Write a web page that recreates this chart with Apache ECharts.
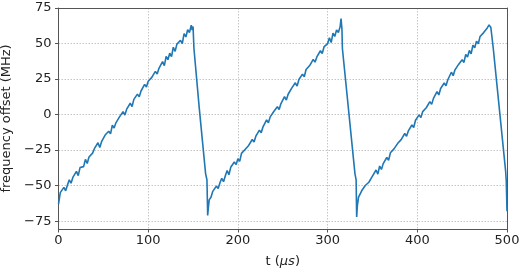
<!DOCTYPE html>
<html><head><meta charset="utf-8">
<script src="https://cdn.jsdelivr.net/npm/echarts@6/dist/echarts.min.js"></script>
<style>html,body{margin:0;padding:0;background:#fff}#c{width:520px;height:269px}</style>
</head><body><div id="c"></div>
<script>
// [t (µs), frequency offset (MHz)]
const rampA = [[0,-63],[2,-54.9],[4,-55.8],[6,-51.2],[8,-53.6],[10,-49.5],[12,-45.9],[14,-48.3],[16,-44.2],[18,-44.1],[20,-40],[22,-42.9],[24,-37.3],[26,-37.2],[28,-36.6],[30,-31.5],[32,-34.4],[34,-29.8],[36,-30.7],[38,-27.1],[40,-24],[42,-25.4],[44,-19.8],[46,-23.2],[48,-19.1],[50,-19.5],[52,-14.4],[54,-15.3],[56,-11.7],[58,-13.6],[60,-7.5],[62,-9.4],[64,-5.8],[66,-7.2],[68,-1.6],[70,-3],[72,2.1],[74,-0.3],[76,3.8],[78,3.4],[80,8],[82,5.6],[84,10.7],[86,10.3],[88,14.4],[90,12.5],[92,16.6],[94,16.2],[96,21.3],[98,19.4],[100,23.5],[102,22.1],[104,26.2],[106,26.3],[108,30.4],[110,28.5],[112,32.6],[114,32.2],[116,37.3],[118,34.4],[120,41],[122,38.6],[124,43.2],[126,40.8],[128,47.4],[130,44.5],[132,49.6],[134,48.2],[136,52.3],[138,49.9],[140,57],[142,54.6],[144,59.7],[146,57.8],[148,62.9],[149,59.5],[150,62]];
const dropA = [[151,46.5],[157,4],[164,-41.5],[165.5,-46],[166.3,-71],[167,-66],[168,-60]];
const rampB = [[170,-58.2],[172,-54],[174,-54.9],[176,-50.3],[178,-52.1],[180,-48],[182,-44.8],[184,-47.2],[186,-43.1],[188,-39.4],[190,-42.3],[192,-37.1],[194,-38.5],[196,-33.4],[198,-35.2],[200,-31.1],[202,-32.9],[204,-27.3],[206,-28.2],[208,-24.5],[210,-25.9],[212,-21.7],[214,-22.1],[216,-17.5],[218,-19.3],[220,-15.2],[222,-15],[224,-10.9],[226,-12.8],[228,-8.6],[230,-9],[232,-3.8],[234,-5.7],[236,-1.6],[238,-2.9],[240,2.2],[242,0.9],[244,5.5],[246,3.6],[248,7.8],[250,7.9],[252,12.6],[254,10.2],[256,14.3],[258,14],[260,18.6],[262,17.3],[264,22.4],[266,20],[268,24.7],[270,23.8],[272,28.5],[274,26.6],[276,31.7],[278,30.4],[280,34.5],[282,33.2],[284,38.8],[286,36.9],[288,40.6],[290,40.2],[292,44.9],[294,43],[296,47.6],[298,46.8],[300,49.9],[302,54.1],[304,50.7],[306,57.3],[308,55],[310,59.6],[312,57.8],[314,61.9],[315,67.5],[316,60]];
const dropB = [[316.5,46.5],[330.5,-41.5],[331.8,-46],[332.4,-72],[333.2,-64],[334.5,-58]];
const rampC = [[336,-57.8],[338,-53.6],[340,-54.5],[342,-49.9],[344,-50.7],[346,-47.6],[348,-48.4],[350,-43.3],[352,-44.7],[354,-39],[356,-41.9],[358,-36.2],[360,-38.6],[362,-34.5],[364,-34.8],[366,-30.2],[368,-32.1],[370,-26.9],[372,-28.3],[374,-24.1],[376,-25.5],[378,-20.4],[380,-21.7],[382,-17.6],[384,-19],[386,-13.3],[388,-15.2],[390,-11.5],[392,-11.9],[394,-7.3],[396,-9.1],[398,-4],[400,-5.4],[402,-0.2],[404,-2.1],[406,2.1],[408,0.7],[410,4.8],[412,5],[414,9.1],[416,7.2],[418,11.4],[420,11],[422,16.2],[424,13.8],[426,18.4],[428,17.6],[430,22.2],[432,20.3],[434,24.5],[436,24.6],[438,29.8],[440,27.4],[442,31.5],[444,30.2],[446,35.3],[448,33.9],[450,38.6],[452,36.7],[454,42.4],[456,40.5],[458,45.1],[460,42.8],[462,48.9],[464,47],[466,51.7],[468,49.8],[470,55],[472,53.6],[474,57.7],[476,56.9],[478,61],[480,63.1],[482,61.3],[483.5,60]];
const dropC = [[484.7,46.5],[498.5,-40],[499.2,-47],[500,-68]];
const xTicks = [0,100,200,300,400,500];
const yTicks = [-75,-50,-25,0,25,50,75];

const data = [].concat(rampA, dropA, rampB, dropB, rampC, dropC);
const font = 'DejaVu Sans';
const spine = '#555';
const gridLine = {show:true, lineStyle:{type:[1.5,1.5], color:'#b8b8b8', width:0.8}};
const chart = echarts.init(document.getElementById('c'), null, {renderer:'canvas'});
chart.setOption({
  animation:false,
  grid:{left:58.5, right:13, top:8, bottom:40, show:false, containLabel:false, outerBoundsMode:'none'},
  xAxis:[{
    type:'value', min:0, max:500, interval:100,
    name:'t ({i|μs})', nameLocation:'middle', nameGap:26,
    nameTextStyle:{fontFamily:font, fontSize:13, color:'#222', rich:{i:{fontFamily:font, fontStyle:'italic', fontSize:13, color:'#222'}}},
    axisLine:{show:true, onZero:false, lineStyle:{color:spine, width:1}},
    axisTick:{show:true, length:3.5, lineStyle:{color:spine}, customValues:xTicks},
    axisLabel:{fontFamily:font, fontSize:13, color:'#222', margin:5, customValues:xTicks},
    splitLine:gridLine
  },{
    type:'value', position:'top', min:0, max:500,
    axisLine:{show:true, onZero:false, lineStyle:{color:spine, width:1}},
    axisTick:{show:false}, axisLabel:{show:false}, splitLine:{show:false}
  }],
  yAxis:[{
    type:'value', min:-80.5, max:75,
    name:'frequency offset (MHz)', nameLocation:'middle', nameGap:38,
    nameTextStyle:{fontFamily:font, fontSize:13, color:'#222'},
    axisLine:{show:true, onZero:false, lineStyle:{color:spine, width:1}},
    axisTick:{show:true, length:3.5, lineStyle:{color:spine}, customValues:yTicks},
    axisLabel:{fontFamily:font, fontSize:13, color:'#222', margin:7, customValues:yTicks,
      formatter:v=>String(v).replace('-','\u2212')},
    splitLine:gridLine
  },{
    type:'value', position:'right', min:-80.5, max:75,
    axisLine:{show:true, onZero:false, lineStyle:{color:spine, width:1}},
    axisTick:{show:false}, axisLabel:{show:false}, splitLine:{show:false}
  }],
  series:[{type:'line', data:data, showSymbol:false, symbol:'none',
    lineStyle:{color:'#1f77b4', width:1.6}, itemStyle:{color:'#1f77b4'}}]
});
</script></body></html>
